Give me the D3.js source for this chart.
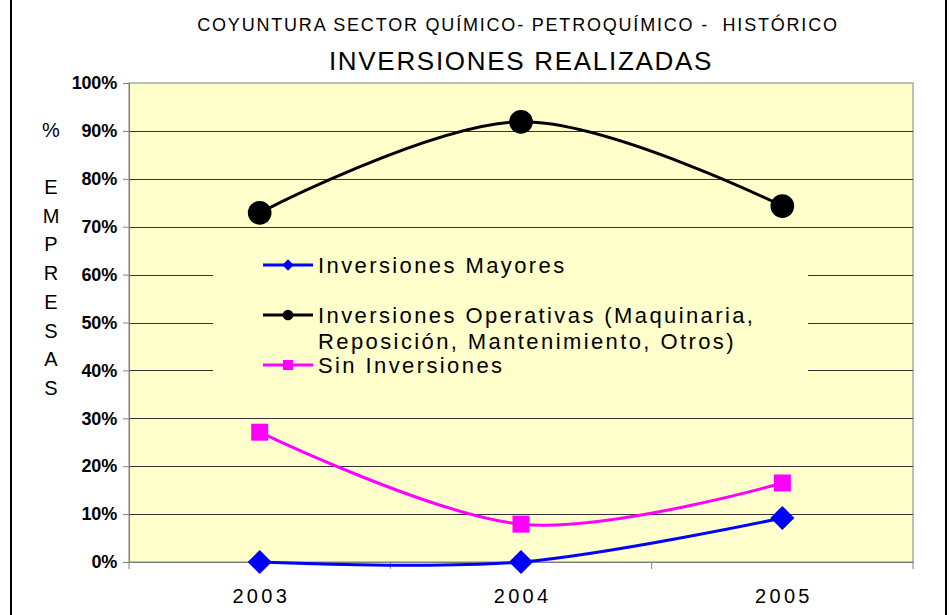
<!DOCTYPE html>
<html>
<head>
<meta charset="utf-8">
<script src="https://cdn.jsdelivr.net/npm/d3@7"></script>
<style>
  body { margin: 0; background: #fff; }
  text { font-family: "Liberation Sans", Arial, sans-serif; fill: #000; }
</style>
</head>
<body>
<script>
// data
var years = ['2003', '2004', '2005'];
var mayores = [0, 0, 9.2];
var operativas = [72.9, 91.9, 74.3];
var sinInversiones = [27.1, 7.9, 16.5];
var yTicks = [0, 10, 20, 30, 40, 50, 60, 70, 80, 90, 100];
var seriesNames = ['Inversiones Mayores',
  ['Inversiones Operativas (Maquinaria,', 'Reposición, Mantenimiento, Otros)'],
  'Sin Inversiones'];

var W = 950, H = 615;
var plot = { left: 129, right: 913, top: 83, bottom: 562 };
var bg = '#ffffcc';
var font = '"Liberation Sans", Arial, sans-serif';

var svg = d3.select('body').append('svg')
  .attr('width', W).attr('height', H);

// outer frame
svg.append('rect')
  .attr('x', 11).attr('y', -5)
  .attr('width', 935).attr('height', H + 10)
  .attr('fill', '#fff').attr('stroke', '#000').attr('stroke-width', 2);

var x = d3.scaleBand().domain(years).range([plot.left, plot.right]);
var y = d3.scaleLinear().domain([0, 100]).range([plot.bottom, plot.top]);

// plot area
svg.append('rect')
  .attr('x', plot.left).attr('y', plot.top)
  .attr('width', plot.right - plot.left).attr('height', plot.bottom - plot.top)
  .attr('fill', bg).attr('stroke', '#808080').attr('stroke-width', 1);

// gridlines
svg.append('g').selectAll('line')
  .data(yTicks.filter(function (d) { return d > 0 && d < 100; }))
  .enter().append('line')
  .attr('x1', plot.left).attr('x2', plot.right)
  .attr('y1', function (d) { return Math.round(y(d)) + 0.5; })
  .attr('y2', function (d) { return Math.round(y(d)) + 0.5; })
  .attr('stroke', '#333').attr('stroke-width', 1);

// y axis
var yAxis = d3.axisLeft(y)
  .tickValues(yTicks)
  .tickFormat(function (d) { return d + '%'; })
  .tickSize(6).tickPadding(6);
var gy = svg.append('g')
  .attr('transform', 'translate(' + plot.left + ',0)')
  .call(yAxis);
gy.select('.domain').attr('stroke', '#808080');
gy.selectAll('.tick line').attr('stroke', '#808080');
gy.selectAll('.tick text')
  .attr('font-size', 18).attr('font-weight', 'bold')
  .attr('font-family', font).attr('letter-spacing', -0.2);

// x axis, ticks between categories
var xAxis = d3.axisBottom(x).tickSize(0).tickPadding(27);
var gx = svg.append('g')
  .attr('transform', 'translate(0,' + plot.bottom + ')')
  .call(xAxis);
gx.select('.domain').attr('stroke', '#808080');
gx.selectAll('.tick text')
  .attr('font-size', 20).attr('letter-spacing', 3.3)
  .attr('font-family', font)
  .attr('dx', 1.6);
gx.selectAll('.sep')
  .data([plot.left, plot.left + x.bandwidth(), plot.left + 2 * x.bandwidth(), plot.right])
  .enter().append('line')
  .attr('x1', function (d) { return d; }).attr('x2', function (d) { return d; })
  .attr('y1', 0).attr('y2', 7)
  .attr('stroke', '#808080');

// legend box hides gridlines behind it
svg.append('rect')
  .attr('x', 213).attr('y', 243).attr('width', 595).attr('height', 140)
  .attr('fill', bg);

// series lines
var cx = function (d, i) { return x(years[i]) + x.bandwidth() / 2; };
var line = d3.line()
  .x(cx)
  .y(function (d) { return y(d); })
  .curve(d3.curveCatmullRom.alpha(0));

var series = [
  { data: mayores, color: '#0000ff', symbol: d3.symbolSquare, size: 289, rot: 45, lsize: 64 },
  { data: operativas, color: '#000000', symbol: d3.symbolCircle, size: 440, rot: 0, lsize: 90 },
  { data: sinInversiones, color: '#ff00ff', symbol: d3.symbolSquare, size: 289, rot: 0, lsize: 100 }
];

series.forEach(function (s) {
  svg.append('path')
    .attr('d', line(s.data))
    .attr('fill', 'none')
    .attr('stroke', s.color).attr('stroke-width', 3);
  svg.append('g').selectAll('path')
    .data(s.data).enter().append('path')
    .attr('transform', function (d, i) {
      return 'translate(' + cx(d, i) + ',' + y(d) + ') rotate(' + s.rot + ')';
    })
    .attr('d', d3.symbol().type(s.symbol).size(s.size))
    .attr('fill', s.color);
});

// legend
var legendY = [265, 315, 365];
series.forEach(function (s, i) {
  var g = svg.append('g').attr('transform', 'translate(263,' + legendY[i] + ')');
  g.append('line').attr('x1', 0).attr('x2', 50)
    .attr('stroke', s.color).attr('stroke-width', 3);
  g.append('path').attr('transform', 'translate(25,0) rotate(' + s.rot + ')')
    .attr('d', d3.symbol().type(s.symbol).size(s.lsize))
    .attr('fill', s.color);
  var name = seriesNames[i];
  var lines = Array.isArray(name) ? name : [name];
  var t = g.append('text').attr('x', 55).attr('y', 8)
    .attr('font-size', 22).attr('letter-spacing', 2.4);
  lines.forEach(function (l, j) {
    t.append('tspan').attr('x', 55).attr('dy', j === 0 ? 0 : 26).text(l);
  });
});

// titles
svg.append('text')
  .attr('x', 518).attr('y', 31)
  .attr('text-anchor', 'middle')
  .attr('font-size', 18).attr('letter-spacing', 1.8)
  .style('white-space', 'pre')
  .text('COYUNTURA SECTOR QUÍMICO- PETROQUÍMICO -  HISTÓRICO');
svg.append('text')
  .attr('x', 521).attr('y', 70)
  .attr('text-anchor', 'middle')
  .attr('font-size', 26).attr('letter-spacing', 1.7)
  .text('INVERSIONES REALIZADAS');

// y axis title, stacked letters
svg.append('text')
  .attr('x', 51).attr('y', 137)
  .attr('text-anchor', 'middle').attr('font-size', 20)
  .text('%');
var stacked = 'EMPRESAS'.split('');
svg.append('g').selectAll('text')
  .data(stacked).enter().append('text')
  .attr('x', 51)
  .attr('y', function (d, i) { return 194 + i * 28.7; })
  .attr('text-anchor', 'middle').attr('font-size', 20)
  .text(function (d) { return d; });
</script>
</body>
</html>
